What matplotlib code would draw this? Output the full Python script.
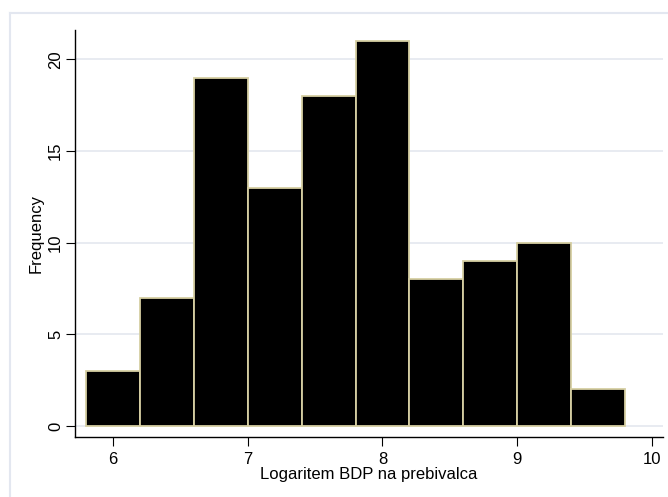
import matplotlib
matplotlib.use("Agg")
import matplotlib.pyplot as plt
from matplotlib.lines import Line2D

plt.rcParams["font.family"] = ["Liberation Sans", "DejaVu Sans"]

bin_left = [5.8, 6.2, 6.6, 7.0, 7.4, 7.8, 8.2, 8.6, 9.0, 9.4]
bin_width = 0.4
counts = [3, 7, 19, 13, 18, 21, 8, 9, 10, 2]
x_ticks = [6, 7, 8, 9, 10]
y_ticks = [0, 5, 10, 15, 20]

W, H = 668, 497
fig = plt.figure(figsize=(W / 100, H / 100), dpi=100)
ax = fig.add_axes([75 / W, 1 - 437 / H, (663 - 75) / W, (437 - 30) / H])

# outer light frame (Stata style)
fig.add_artist(Line2D([10 / W, 10 / W], [0, 1 - 13 / H], color="#e3e7f0", lw=1.5))
fig.add_artist(Line2D([10 / W, 1], [1 - 13 / H, 1 - 13 / H], color="#e3e7f0", lw=1.5))

for y in y_ticks:
    ax.axhline(y, color="#e4e8ef", lw=1.2, zorder=0)

ax.bar(bin_left, counts, width=bin_width, align="edge", color="black",
       edgecolor="#d6cfa2", linewidth=1.3, zorder=2)

ax.set_xlim(5.72, 10.08)
ax.set_ylim(-0.6, 21.6)
ax.set_xticks(x_ticks)
ax.set_yticks(y_ticks)
ax.set_yticklabels([str(v) for v in y_ticks], rotation=90, va="center")
ax.tick_params(labelsize=12, length=6.5, width=0.8, pad=4)
ax.tick_params(axis="y", pad=2)
for s in ("top", "right"):
    ax.spines[s].set_visible(False)
for s in ("left", "bottom"):
    ax.spines[s].set_linewidth(1.0)

ax.set_xlabel("Logaritem BDP na prebivalca", fontsize=12, labelpad=0)
ax.set_ylabel("Frequency", fontsize=12, labelpad=3)

fig.savefig("out.png", dpi=100)
